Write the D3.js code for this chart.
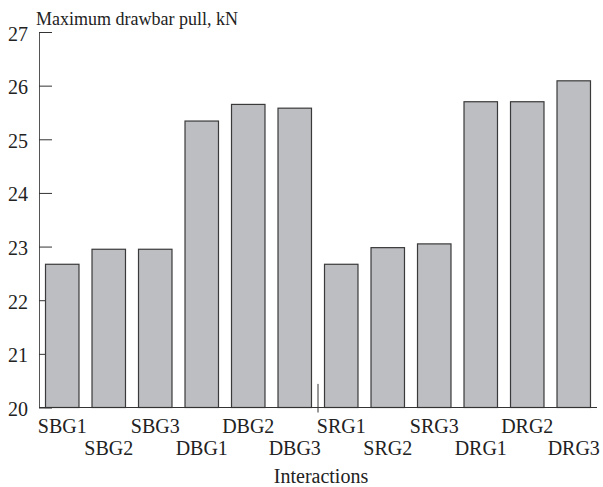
<!DOCTYPE html>
<html>
<head>
<meta charset="utf-8">
<script src="https://cdn.jsdelivr.net/npm/d3@7"></script>
<style>
  body { margin: 0; background: #fff; }
  text { font-family: "Liberation Serif", "Times New Roman", serif; fill: #222; }
</style>
</head>
<body>
<div id="chart"></div>
<script>
// interaction names and max drawbar pull (kN)
const interactions = ['SBG1', 'SBG2', 'SBG3', 'DBG1', 'DBG2', 'DBG3',
                      'SRG1', 'SRG2', 'SRG3', 'DRG1', 'DRG2', 'DRG3'];
const pull = [22.67, 22.95, 22.95, 25.34, 25.65, 25.58,
              22.67, 22.98, 23.05, 25.70, 25.70, 26.09];
const yTicks = [20, 21, 22, 23, 24, 25, 26, 27];

const width = 603, height = 487;
const margin = {top: 32, right: 6, bottom: 80, left: 39};

const svg = d3.select('#chart').append('svg')
  .attr('width', width)
  .attr('height', height);

const x = d3.scaleBand()
  .domain(interactions)
  .range([margin.left, width - margin.right])
  .paddingInner(0.28)
  .paddingOuter(0.14);

const y = d3.scaleLinear()
  .domain([20, 27])
  .range([height - margin.bottom + 0.5, margin.top]);

// y axis, ticks pointing inward
const yAxis = svg.append('g')
  .attr('transform', `translate(${margin.left},0)`)
  .call(d3.axisRight(y).tickValues(yTicks).tickSize(13).tickSizeOuter(0).tickFormat(d3.format('d')));
yAxis.select('.domain').attr('stroke', '#555');
yAxis.selectAll('.tick line').attr('stroke', '#333');
yAxis.selectAll('.tick text')
  .attr('x', -11)
  .attr('dy', '0.4em')
  .attr('text-anchor', 'end')
  .style('font-size', '20px')
  .style('font-family', '"Liberation Serif", serif')
  .attr('fill', '#222');

// bars
svg.selectAll('rect.bar')
  .data(interactions)
  .join('rect')
  .attr('class', 'bar')
  .attr('x', d => x(d))
  .attr('width', x.bandwidth())
  .attr('y', (d, i) => y(pull[i]))
  .attr('height', (d, i) => y(20) - y(pull[i]))
  .attr('fill', '#bdbec2')
  .attr('stroke', '#3a3a3a')
  .attr('stroke-width', 1.2);

// x axis baseline
svg.append('line')
  .attr('x1', margin.left)
  .attr('x2', width - margin.right)
  .attr('y1', y(20))
  .attr('y2', y(20))
  .attr('stroke', '#333')
  .attr('stroke-width', 1.2);

// small separator mark between the two groups
const sepX = x('DBG3') + x.bandwidth() + (x.step() - x.bandwidth()) / 2;
svg.append('line')
  .attr('x1', sepX).attr('x2', sepX)
  .attr('y1', y(20.44))
  .attr('y2', y(20) + 5)
  .attr('stroke', '#333');

// staggered category labels
svg.selectAll('text.cat')
  .data(interactions)
  .join('text')
  .attr('class', 'cat')
  .attr('x', d => x(d) + x.bandwidth() / 2)
  .attr('y', (d, i) => i % 2 === 0 ? 433 : 455)
  .attr('text-anchor', 'middle')
  .style('font-size', '20px')
  .text(d => d);

svg.append('text')
  .attr('x', 321)
  .attr('y', 483)
  .attr('text-anchor', 'middle')
  .style('font-size', '20px')
  .text('Interactions');

svg.append('text')
  .attr('x', 36)
  .attr('y', 25)
  .style('font-size', '18px')
  .text('Maximum drawbar pull, kN');
</script>
</body>
</html>
